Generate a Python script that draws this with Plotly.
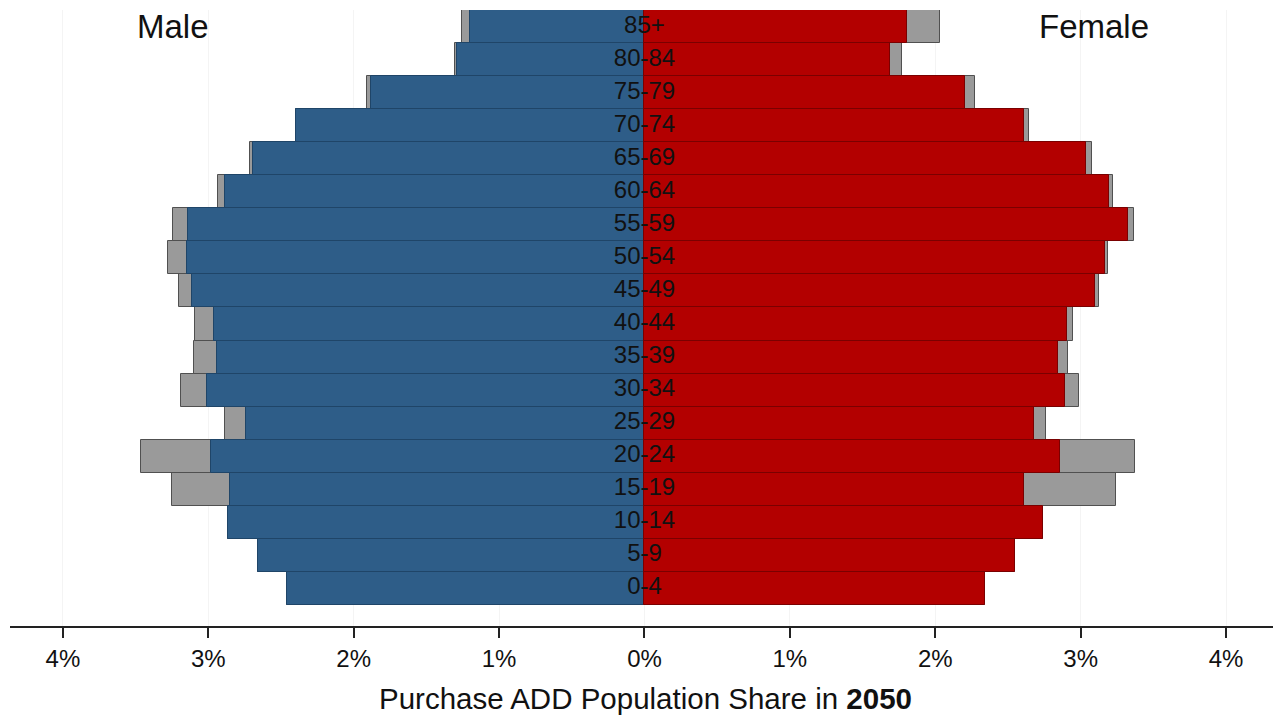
import plotly.graph_objects as go

ages = ["0-4", "5-9", "10-14", "15-19", "20-24", "25-29", "30-34", "35-39", "40-44",
        "45-49", "50-54", "55-59", "60-64", "65-69", "70-74", "75-79", "80-84", "85+"]

male_add = [2.457, 2.656, 2.863, 2.85, 2.98, 2.74, 3.01, 2.94, 2.96,
            3.11, 3.145, 3.14, 2.885, 2.69, 2.40, 1.88, 1.29, 1.20]
male_total = [2.457, 2.656, 2.863, 3.25, 3.465, 2.885, 3.19, 3.10, 3.09,
              3.20, 3.28, 3.24, 2.93, 2.71, 2.40, 1.91, 1.30, 1.255]
female_add = [2.345, 2.55, 2.74, 2.61, 2.86, 2.68, 2.89, 2.845, 2.905,
              3.10, 3.17, 3.325, 3.195, 3.04, 2.61, 2.205, 1.69, 1.805]
female_total = [2.345, 2.55, 2.74, 3.24, 3.375, 2.765, 2.99, 2.91, 2.95,
                3.125, 3.19, 3.365, 3.22, 3.075, 2.645, 2.27, 1.77, 2.03]

tick_vals = [-4, -3, -2, -1, 0, 1, 2, 3, 4]
tick_text = ["4%", "3%", "2%", "1%", "0%", "1%", "2%", "3%", "4%"]

pos = list(range(len(ages)))
BLUE = "#2e5d88"
RED = "#b30000"
GREY = "#9a9a9a"
FONT = "Liberation Sans, Arial"

fig = go.Figure()
fig.add_trace(go.Bar(y=pos, x=[-v for v in male_total], orientation="h", width=1,
                     marker=dict(color=GREY, line=dict(color="#505050", width=1)),
                     showlegend=False, hoverinfo="skip"))
fig.add_trace(go.Bar(y=pos, x=female_total, orientation="h", width=1,
                     marker=dict(color=GREY, line=dict(color="#505050", width=1)),
                     showlegend=False, hoverinfo="skip"))
fig.add_trace(go.Bar(y=pos, x=[-v for v in male_add], orientation="h", width=1,
                     marker=dict(color=BLUE, line=dict(color="#1f4568", width=1)),
                     showlegend=False))
fig.add_trace(go.Bar(y=pos, x=female_add, orientation="h", width=1,
                     marker=dict(color=RED, line=dict(color="#7a0000", width=1)),
                     showlegend=False))
fig.add_trace(go.Scatter(y=pos, x=[0] * len(ages), mode="text", text=ages,
                         textposition="middle center",
                         textfont=dict(family=FONT, size=24, color="#111111"),
                         showlegend=False, hoverinfo="skip"))

fig.add_annotation(x=-3.24, y=17, text="Male", showarrow=False, xref="x", yref="y",
                   font=dict(family=FONT, size=33, color="#111111"))
fig.add_annotation(x=3.09, y=17, text="Female", showarrow=False, xref="x", yref="y",
                   font=dict(family=FONT, size=33, color="#111111"))

fig.update_layout(
    width=1273, height=707,
    margin=dict(l=2, r=0, t=2, b=89),
    barmode="overlay", bargap=0,
    plot_bgcolor="white", paper_bgcolor="white",
    font=dict(family=FONT, color="#111111"),
    xaxis=dict(range=[-4.364, 4.378], tickvals=tick_vals, ticktext=tick_text,
               showgrid=True, gridcolor="#f4f4f4", zeroline=False,
               showline=True, linecolor="#222222", linewidth=1.5,
               ticks="outside", ticklen=10, tickcolor="#222222", tickwidth=1.5,
               tickfont=dict(size=24, color="#111111"),
               title=dict(text="Purchase ADD Population Share in <b>2050</b>",
                          font=dict(size=29.5, color="#111111"), standoff=18)),
    yaxis=dict(range=[-1.136, 17.5], showticklabels=False, showgrid=False,
               zeroline=False, showline=False, ticks=""),
)

fig.write_html("out.html")
